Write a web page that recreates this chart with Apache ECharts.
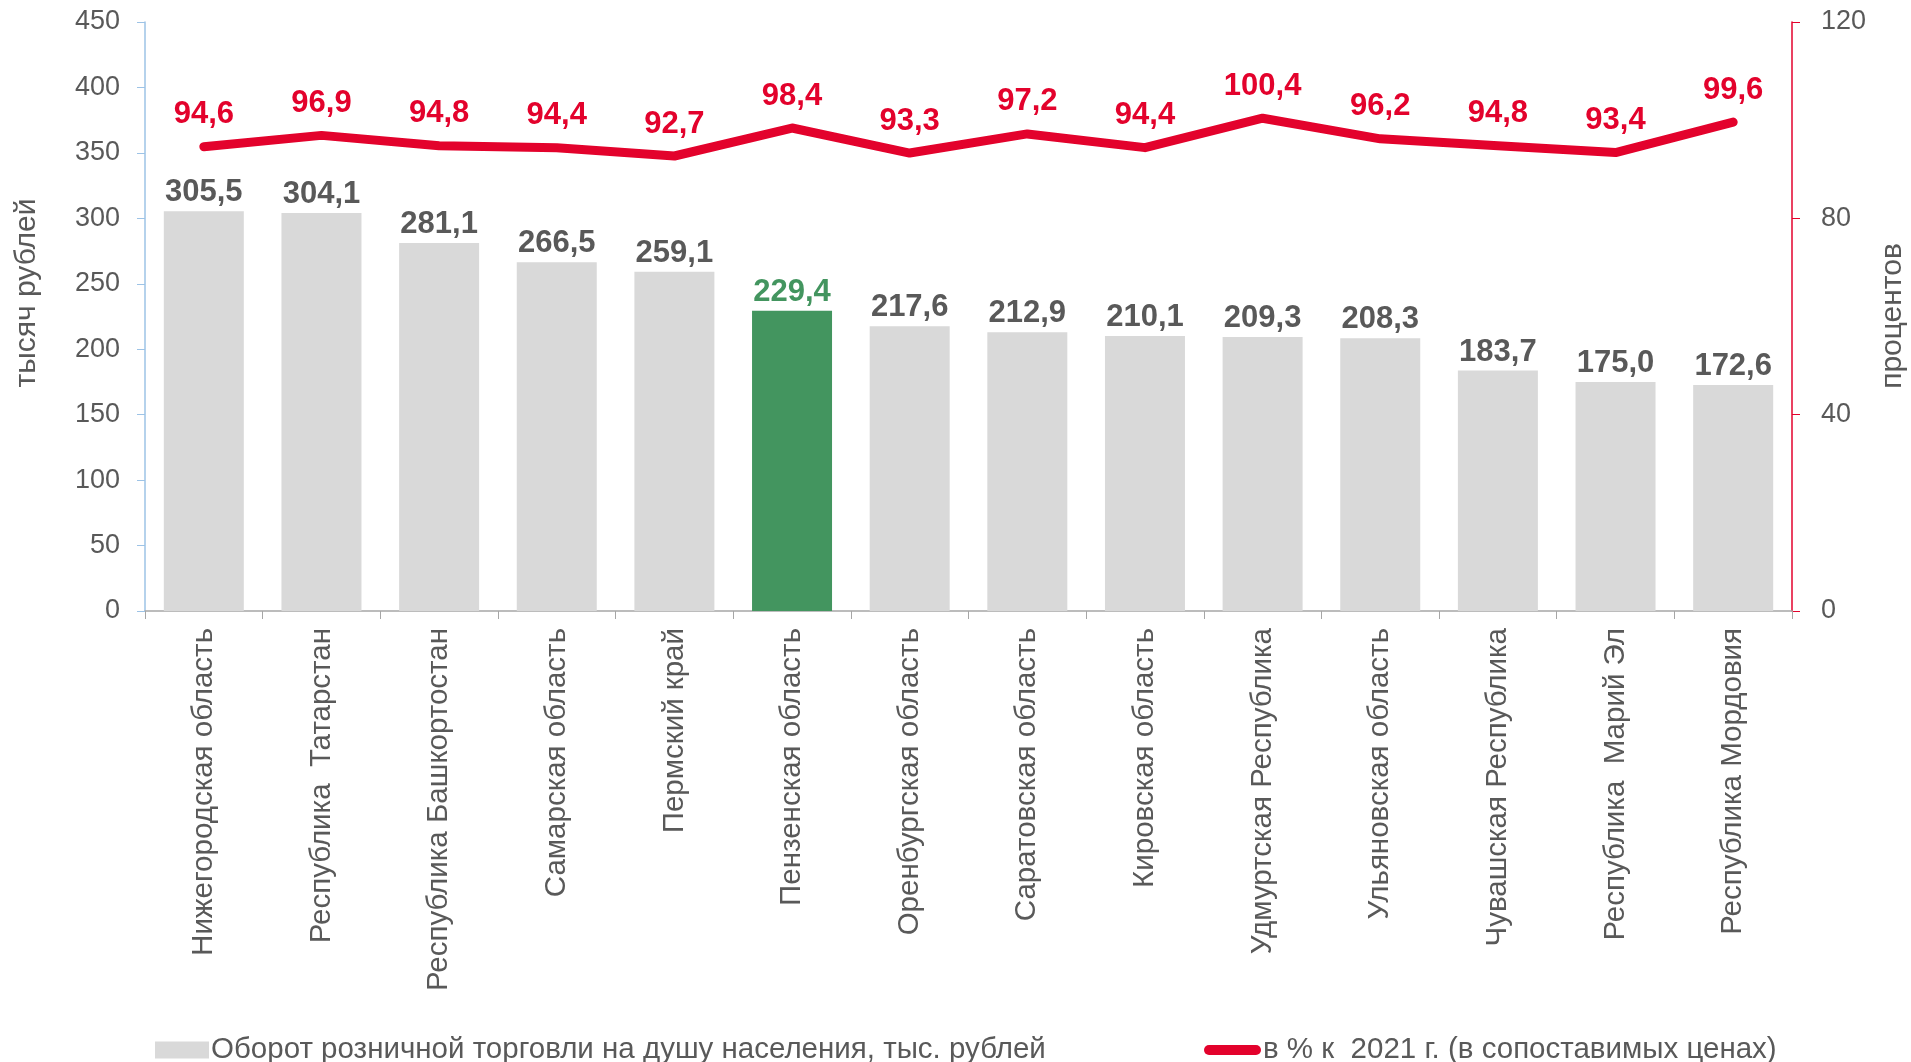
<!DOCTYPE html>
<html>
<head>
<meta charset="utf-8">
<script src="https://cdn.jsdelivr.net/npm/echarts@6/dist/echarts.min.js"></script>
<style>
html,body{margin:0;padding:0;background:#fff;}
#chart{width:1911px;height:1062px;}
</style>
</head>
<body>
<div id="chart"></div>
<script>
const categories = ['Нижегородская область','Республика  Татарстан','Республика Башкортостан','Самарская область','Пермский край','Пензенская область','Оренбургская область','Саратовская область','Кировская область','Удмуртская Республика','Ульяновская область','Чувашская Республика','Республика  Марий Эл','Республика Мордовия'];
const turnover = [305.5, 304.1, 281.1, 266.5, 259.1, 229.4, 217.6, 212.9, 210.1, 209.3, 208.3, 183.7, 175.0, 172.6];
const percent = [94.6, 96.9, 94.8, 94.4, 92.7, 98.4, 93.3, 97.2, 94.4, 100.4, 96.2, 94.8, 93.4, 99.6];
const leftTicks = [0, 450, 50];
const rightTicks = [0, 120, 40];
const highlightIndex = 5;
const seriesNames = ['Оборот розничной торговли на душу населения, тыс. рублей', 'в % к  2021 г. (в сопоставимых ценах)'];
const axisNames = ['тысяч рублей', 'процентов'];

const FONT = "'Liberation Sans', Arial, sans-serif";
const GRAY = '#d9d9d9', GREEN = '#43955f', RED = '#e3022c', TXT = '#595959';
const fmt = v => v.toFixed(1).replace('.', ',');

const barData = turnover.map((v, i) => i === highlightIndex
  ? {value: v, itemStyle: {color: GREEN}, label: {color: GREEN}}
  : v);

const chart = echarts.init(document.getElementById('chart'), null, {renderer: 'canvas'});
chart.setOption({
  animation: false,
  textStyle: {fontFamily: FONT},
  grid: {left: 145, right: 119, top: 22, bottom: 451},
  legend: [
    {data: [seriesNames[0]], left: 150, top: 1030, itemWidth: 54, itemHeight: 17, itemGap: 0,
     icon: 'rect', textStyle: {fontFamily: FONT, fontSize: 29.5, color: TXT, padding: [0,0,0,-3]}},
    {data: [{name: seriesNames[1], icon: 'path://M5,0 H52 A5,5 0 0 1 52,10 H5 A5,5 0 0 1 5,0 Z', itemStyle: {color: RED}}],
     left: 1199, top: 1030, itemWidth: 57, itemHeight: 10, itemGap: 0,
     textStyle: {fontFamily: FONT, fontSize: 29.5, color: TXT, padding: [0,0,0,-3]}}
  ],
  xAxis: {
    type: 'category', data: categories, boundaryGap: true,
    axisLine: {lineStyle: {color: '#a6a6a6', width: 1.5}},
    axisTick: {show: true, length: 8, lineStyle: {color: '#a6a6a6'}},
    axisLabel: {rotate: 90, interval: 0, margin: 17, fontSize: 29.5, color: TXT, fontFamily: FONT}
  },
  yAxis: [
    {type: 'value', min: leftTicks[0], max: leftTicks[1], interval: leftTicks[2],
     splitLine: {show: false},
     axisLine: {show: true, lineStyle: {color: '#9dc3e6', width: 1.5}},
     axisTick: {show: true, length: 8, lineStyle: {color: '#9dc3e6'}},
     axisLabel: {fontSize: 27, color: TXT, margin: 25, fontFamily: FONT}},
    {type: 'value', position: 'right', min: rightTicks[0], max: rightTicks[1], interval: rightTicks[2],
     splitLine: {show: false},
     axisLine: {show: true, lineStyle: {color: RED, width: 1.5}},
     axisTick: {show: true, length: 8, lineStyle: {color: RED}},
     axisLabel: {fontSize: 27, color: TXT, margin: 29, fontFamily: FONT}}
  ],
  graphic: [
    {type: 'text', x: 27, y: 293, rotation: Math.PI / 2,
     style: {text: axisNames[0], font: "30px 'Liberation Sans', Arial", fill: TXT, align: 'center', verticalAlign: 'middle'}},
    {type: 'text', x: 1893, y: 316, rotation: Math.PI / 2,
     style: {text: axisNames[1], font: "30px 'Liberation Sans', Arial", fill: TXT, align: 'center', verticalAlign: 'middle'}}
  ],
  series: [
    {name: seriesNames[0], type: 'bar', yAxisIndex: 0, data: barData, barWidth: 80,
     itemStyle: {color: GRAY},
     label: {show: true, position: 'top', distance: 3, fontSize: 31, fontWeight: 'bold', color: TXT, fontFamily: FONT,
             formatter: p => fmt(p.value)}},
    {name: seriesNames[1], type: 'line', yAxisIndex: 1, data: percent, showSymbol: true, symbol: 'circle', symbolSize: 1,
     lineStyle: {color: RED, width: 9, cap: 'round', join: 'round'}, itemStyle: {color: RED},
     label: {show: true, position: 'top', distance: 16, fontSize: 31, fontWeight: 'bold', color: RED, fontFamily: FONT,
             formatter: p => fmt(p.value)}}
  ]
});
</script>
</body>
</html>
